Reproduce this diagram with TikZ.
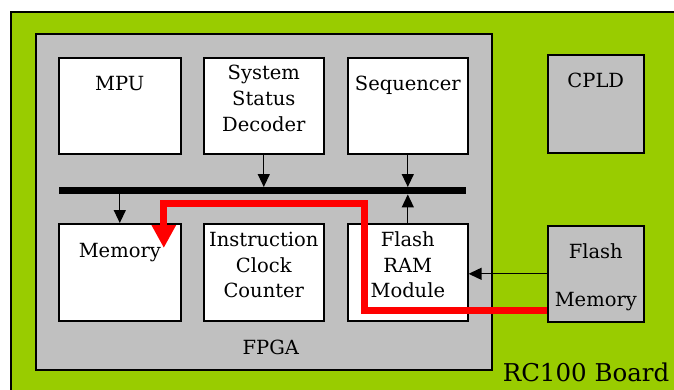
\documentclass[tikz,border=0pt]{standalone}
\usepackage{fontspec}
\setmainfont{DejaVu Serif}
\usetikzlibrary{arrows.meta,calc}
\definecolor{boardgreen}{HTML}{99CC00}
\definecolor{chipgrey}{HTML}{C0C0C0}
\begin{document}
\begin{tikzpicture}[x=1pt,y=-1pt,
  part/.style={draw,line width=1.6pt,inner sep=0pt,anchor=north west,fill=white},
  chip/.style={part,fill=chipgrey},
  lbl/.style={inner sep=0pt,anchor=base,
    font=\fontsize{19.5}{25.5}\selectfont},
  arr/.style={line width=1.3pt,-{Triangle[length=13pt,width=12pt]}},
  flow/.style={draw=red,line width=7pt,line join=miter,
    -{Triangle[length=23pt,width=23pt]}}]
\useasboundingbox (0,0) rectangle (674,389);
\clip (0,0) rectangle (674,389);

% board and the two chips on it
\node[chip,fill=boardgreen,line width=2pt,minimum width=700pt,minimum height=420pt] (board) at (10,11) {};
\node[chip,minimum width=456pt,minimum height=336pt] (fpga) at (35,33) {};
\node[chip,minimum width=96pt,minimum height=98pt] (cpld) at (547,54) {};
\node[chip,minimum width=96pt,minimum height=96pt] (fmem) at (547,225) {};

% FPGA blocks
\node[part,minimum width=122pt,minimum height=96pt] (mpu) at (58,57) {};
\node[part,minimum width=120pt,minimum height=96pt] (ssd) at (203,57) {};
\node[part,minimum width=120pt,minimum height=96pt] (seq) at (347,57) {};
\node[part,minimum width=122pt,minimum height=97pt] (mem) at (58,223) {};
\node[part,minimum width=120pt,minimum height=97pt] (icc) at (203,223) {};
\node[part,minimum width=120pt,minimum height=97pt] (fram) at (347,223) {};

% internal bus
\node[fill=black,inner sep=0pt,anchor=north west,minimum width=407pt,minimum height=7pt] (bus) at (59,187) {};

% bus connections
\draw[arr] (ssd.south) -- (ssd.south |- bus.north);
\draw[arr] (seq.south) -- (seq.south |- bus.north);
\draw[arr] (fram.north) -- (fram.north |- bus.south);
\draw[arr] (bus.south -| mem.north) -- (mem.north);
\draw[arr] (fmem.west) -- (fmem.west -| fram.east);

% data flow from flash memory into memory
\coordinate (flowstart) at ($(fmem.west)+(0,37)$);
\coordinate (flowturn) at ($(fram.north west)+(17,-20)$);
\coordinate (flowtip) at ($(mem.north)+(44,25)$);
\draw[flow] (flowstart) -| (flowturn) -| (flowtip);

% labels, one node per line
\node[lbl] (tmpu) at ($(mpu.north)+(0,33)$) {MPU};
\node[lbl] (tssd1) at ($(ssd.north)+(0,22)$) {System};
\node[lbl] (tssd2) at ($(ssd.north)+(0,48)$) {Status};
\node[lbl] (tssd3) at ($(ssd.north)+(0,74)$) {Decoder};
\node[lbl] (tseq) at ($(seq.north)+(0,33)$) {Sequencer};
\node[lbl] (tmem) at ($(mem.north)+(0,34)$) {Memory};
\node[lbl] (ticc1) at ($(icc.north)+(0,23)$) {Instruction};
\node[lbl] (ticc2) at ($(icc.north)+(0,49)$) {Clock};
\node[lbl] (ticc3) at ($(icc.north)+(0,74)$) {Counter};
\node[lbl] (tfram1) at ($(fram.north)+(0,23)$) {Flash};
\node[lbl] (tfram2) at ($(fram.north)+(0,49)$) {RAM};
\node[lbl] (tfram3) at ($(fram.north)+(0,74)$) {Module};
\node[lbl] (tcpld) at ($(cpld.north)+(0,33)$) {CPLD};
\node[lbl] (tfmem) at ($(fmem.north)+(0,33)$) {Flash};
\node[lbl] (tfmem2) at ($(fmem.north)+(0,81)$) {Memory};
\node[lbl] (tfpga) at ($(fpga.south)+(7,-16)$) {FPGA};
\node[lbl,anchor=base west,font=\fontsize{24.5}{30}\selectfont] (tboard) at ($(fpga.south east)+(10,11)$) {RC100 Board};
\end{tikzpicture}
\end{document}
